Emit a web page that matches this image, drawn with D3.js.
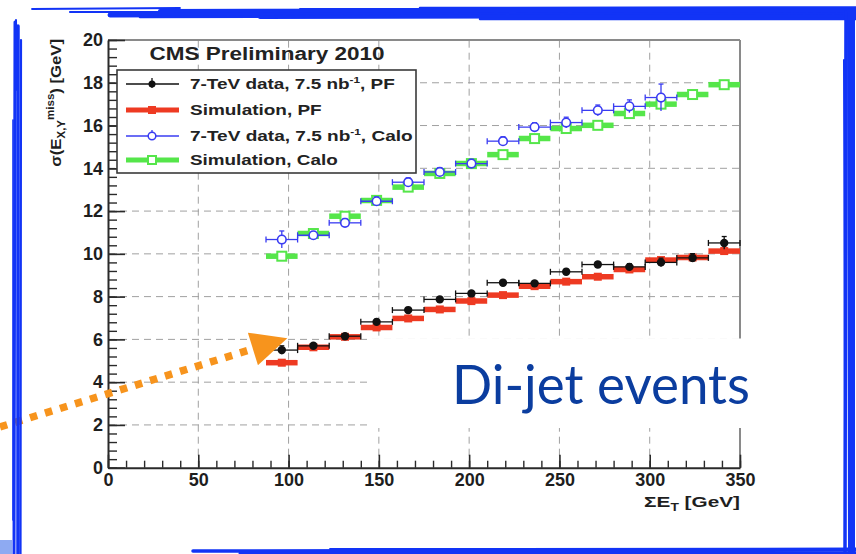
<!DOCTYPE html>
<html>
<head>
<meta charset="utf-8">
<script src="https://cdn.jsdelivr.net/npm/d3@7"></script>
<style>
  html, body { margin: 0; padding: 0; background: #ffffff; }
  svg { display: block; }
</style>
</head>
<body>
<svg id="chart" width="856" height="554"></svg>
<script>
// ---- Data: MET resolution vs sum E_T, di-jet events ----
const binCenters   = [96.25, 113.75, 131.25, 148.75, 166.25, 183.75, 201.25, 218.75, 236.25, 253.75, 271.25, 288.75, 306.25, 323.75, 341.25];
const binHalfWidth = 8.75;

// 7-TeV data, particle flow
const pfData    = [5.50, 5.70, 6.15, 6.82, 7.37, 7.87, 8.15, 8.65, 8.62, 9.16, 9.50, 9.39, 9.60, 9.81, 10.51];
const pfDataErr = [0.20, 0.10, 0.10, 0.12, 0.12, 0.12, 0.12, 0.12, 0.12, 0.13, 0.13, 0.15, 0.20, 0.20, 0.30];
// Simulation, particle flow
const pfSim     = [4.91, 5.63, 6.12, 6.56, 6.98, 7.40, 7.79, 8.07, 8.49, 8.70, 8.93, 9.27, 9.71, 9.83, 10.13];
// 7-TeV data, calorimeter
const caloData    = [10.67, 10.87, 11.45, 12.46, 13.35, 13.83, 14.22, 15.27, 15.93, 16.14, 16.71, 16.90, 17.31, null, null];
const caloDataErr = [0.40, 0.15, 0.20, 0.20, 0.20, 0.20, 0.20, 0.20, 0.20, 0.25, 0.25, 0.30, 0.63, null, null];
// Simulation, calorimeter
const caloSim   = [9.89, 10.95, 11.76, 12.50, 13.12, 13.76, 14.22, 14.64, 15.39, 15.86, 16.01, 16.56, 17.00, 17.45, 17.91];

const xTicks = [0, 50, 100, 150, 200, 250, 300, 350];
const yTicks = [0, 2, 4, 6, 8, 10, 12, 14, 16, 18, 20];
const xMinorTicks = d3.range(0, 351, 10);
const yMinorTicks = d3.range(0, 20.01, 0.4).map(v => +v.toFixed(1));

const chartTitle = "CMS Preliminary 2010";
const legendEntries = [
  { parts: ["7-TeV data, 7.5 nb", "-1", ", PF"],   kind: "pfData" },
  { parts: ["Simulation, PF"],                      kind: "pfSim" },
  { parts: ["7-TeV data, 7.5 nb", "-1", ", Calo"], kind: "caloData" },
  { parts: ["Simulation, Calo"],                    kind: "caloSim" }
];
const annotationText = "Di-jet events";

// ---- Styling ----
const COL = {
  black: "#111111",
  red: "#ee3a22",
  blue: "#3a3cf2",
  green: "#55e64a",
  grid: "#a0a0a0",
  frame: "#8a8a8a",
  axis: "#2a2a2a",
  border: "#1234f6",
  orange: "#f7941d",
  label: "#0b3d9f"
};
const tickFont = "'Liberation Sans', Arial, Helvetica, sans-serif";

const svg = d3.select("#chart");

const x = d3.scaleLinear().domain([0, 350]).range([108, 740]);
const y = d3.scaleLinear().domain([0, 20]).range([467.7, 40]);

// stretch a text element horizontally (about its own origin) to a given width
function stretchTo(sel, width) {
  const w = sel.node().getBBox().width;
  sel.attr("transform", `scale(${width / w},1)`);
}

// ---- Grid ----
const grid = svg.append("g").attr("class", "grid");
grid.selectAll("line.gx").data(xTicks.filter(t => t > 0 && t < 350)).join("line")
  .attr("x1", d => x(d)).attr("x2", d => x(d))
  .attr("y1", y(0)).attr("y2", y(20))
  .attr("stroke", COL.grid).attr("stroke-width", 1).attr("stroke-dasharray", "7,5");
grid.selectAll("line.gy").data(yTicks.filter(t => t > 0 && t < 20)).join("line")
  .attr("x1", x(0)).attr("x2", x(350))
  .attr("y1", d => y(d)).attr("y2", d => y(d))
  .attr("stroke", COL.grid).attr("stroke-width", 1).attr("stroke-dasharray", "7,5");

// ---- Frame (top / right) ----
svg.append("line").attr("x1", x(0)).attr("x2", x(350)).attr("y1", y(20)).attr("y2", y(20))
  .attr("stroke", COL.frame).attr("stroke-width", 2);
svg.append("line").attr("x1", x(350)).attr("x2", x(350)).attr("y1", y(0)).attr("y2", y(20))
  .attr("stroke", COL.frame).attr("stroke-width", 2);

// ---- Axes ----
function styleAxis(g, size) {
  g.select(".domain").attr("stroke", COL.axis).attr("stroke-width", 2);
  g.selectAll(".tick line").attr("stroke", COL.axis).attr("stroke-width", 1.6);
  g.selectAll(".tick text")
    .attr("font-family", tickFont).attr("font-weight", "bold")
    .attr("font-size", size).attr("fill", "#1e1e1e");
}
const yMinor = svg.append("g").attr("transform", `translate(${x(0)},0)`)
  .call(d3.axisLeft(y).tickValues(yMinorTicks).tickSize(-9).tickSizeOuter(0).tickFormat(""));
yMinor.select(".domain").remove();
yMinor.selectAll(".tick line").attr("stroke", COL.axis).attr("stroke-width", 1.4);

const xMinor = svg.append("g").attr("transform", `translate(0,${y(0)})`)
  .call(d3.axisBottom(x).tickValues(xMinorTicks).tickSize(-7).tickSizeOuter(0).tickFormat(""));
xMinor.select(".domain").remove();
xMinor.selectAll(".tick line").attr("stroke", COL.axis).attr("stroke-width", 1.4);

const yAxis = svg.append("g").attr("transform", `translate(${x(0)},0)`)
  .call(d3.axisLeft(y).tickValues(yTicks).tickSize(-17).tickSizeOuter(0).tickPadding(5));
styleAxis(yAxis, 18);

const xAxis = svg.append("g").attr("transform", `translate(0,${y(0)})`)
  .call(d3.axisBottom(x).tickValues(xTicks).tickSize(-13).tickSizeOuter(0).tickPadding(6));
styleAxis(xAxis, 18);

// ---- Axis titles ----
const yTitleG = svg.append("g").attr("transform", `translate(61,39) rotate(-90)`);
const yTitle = yTitleG.append("text")
  .attr("text-anchor", "end")
  .attr("font-family", tickFont).attr("font-weight", "bold")
  .attr("font-size", 14.5).attr("fill", "#1e1e1e");
yTitle.append("tspan").text("σ(E");
yTitle.append("tspan").attr("font-size", 10).attr("dy", 4).text("X,Y");
yTitle.append("tspan").attr("font-size", 10).attr("dy", -11).text("miss");
yTitle.append("tspan").attr("dy", 7).text(") [GeV]");
stretchTo(yTitle, 128);

const xTitleG = svg.append("g").attr("transform", `translate(${x(350)},507)`);
const xTitle = xTitleG.append("text")
  .attr("text-anchor", "end")
  .attr("font-family", tickFont).attr("font-weight", "bold")
  .attr("font-size", 15).attr("fill", "#1e1e1e");
xTitle.append("tspan").text("ΣE");
xTitle.append("tspan").attr("font-size", 10).attr("dy", 4).text("T");
xTitle.append("tspan").attr("dy", -4).text(" [GeV]");
stretchTo(xTitle, 96);

// ---- Series drawing helpers ----
const rows = (vals, errs) => binCenters.map((c, i) => ({ c, v: vals[i], e: errs ? errs[i] : 0 }))
  .filter(d => d.v !== null);

function drawBand(data, color, markerFn) {
  const g = svg.append("g");
  g.selectAll("line.band").data(data).join("line")
    .attr("x1", d => x(d.c - binHalfWidth)).attr("x2", d => x(d.c + binHalfWidth))
    .attr("y1", d => y(d.v)).attr("y2", d => y(d.v))
    .attr("stroke", color).attr("stroke-width", 5.5);
  markerFn(g, data);
}

function drawPoints(data, color, lw, markerFn) {
  const g = svg.append("g");
  g.selectAll("line.h").data(data).join("line")
    .attr("x1", d => x(d.c - binHalfWidth)).attr("x2", d => x(d.c + binHalfWidth))
    .attr("y1", d => y(d.v)).attr("y2", d => y(d.v))
    .attr("stroke", color).attr("stroke-width", lw);
  g.selectAll("line.capl").data(data).join("line")
    .attr("x1", d => x(d.c - binHalfWidth)).attr("x2", d => x(d.c - binHalfWidth))
    .attr("y1", d => y(d.v) - 3).attr("y2", d => y(d.v) + 3)
    .attr("stroke", color).attr("stroke-width", lw);
  g.selectAll("line.capr").data(data).join("line")
    .attr("x1", d => x(d.c + binHalfWidth)).attr("x2", d => x(d.c + binHalfWidth))
    .attr("y1", d => y(d.v) - 3).attr("y2", d => y(d.v) + 3)
    .attr("stroke", color).attr("stroke-width", lw);
  g.selectAll("line.v").data(data).join("line")
    .attr("x1", d => x(d.c)).attr("x2", d => x(d.c))
    .attr("y1", d => y(d.v - d.e)).attr("y2", d => y(d.v + d.e))
    .attr("stroke", color).attr("stroke-width", lw);
  g.selectAll("line.vcap").data(data).join("line")
    .attr("x1", d => x(d.c) - 2.5).attr("x2", d => x(d.c) + 2.5)
    .attr("y1", d => y(d.v + d.e)).attr("y2", d => y(d.v + d.e))
    .attr("stroke", color).attr("stroke-width", lw);
  markerFn(g, data);
}

const openSquare = color => (g, data) => g.selectAll("rect.m").data(data).join("rect")
  .attr("x", d => x(d.c) - 4.5).attr("y", d => y(d.v) - 4.5)
  .attr("width", 9).attr("height", 9)
  .attr("fill", "#ffffff").attr("stroke", color).attr("stroke-width", 2);
const filledSquare = color => (g, data) => g.selectAll("rect.m").data(data).join("rect")
  .attr("x", d => x(d.c) - 4).attr("y", d => y(d.v) - 4)
  .attr("width", 8).attr("height", 8).attr("fill", color);
const openCircle = color => (g, data) => g.selectAll("circle.m").data(data).join("circle")
  .attr("cx", d => x(d.c)).attr("cy", d => y(d.v)).attr("r", 4.3)
  .attr("fill", "#ffffff").attr("stroke", color).attr("stroke-width", 1.6);
const filledCircle = color => (g, data) => g.selectAll("circle.m").data(data).join("circle")
  .attr("cx", d => x(d.c)).attr("cy", d => y(d.v)).attr("r", 4.2).attr("fill", color);

drawBand(rows(caloSim), COL.green, openSquare(COL.green));
drawPoints(rows(caloData, caloDataErr), COL.blue, 1.3, openCircle(COL.blue));
drawBand(rows(pfSim), COL.red, filledSquare(COL.red));
drawPoints(rows(pfData, pfDataErr), COL.black, 1.3, filledCircle(COL.black));

// ---- Title and legend ----
svg.append("text")
  .attr("x", 267).attr("y", 59.5).attr("text-anchor", "middle")
  .attr("font-family", tickFont).attr("font-weight", "bold")
  .attr("font-size", 17.5).attr("fill", "#222")
  .attr("textLength", 235).attr("lengthAdjust", "spacingAndGlyphs")
  .text(chartTitle);

svg.append("rect")
  .attr("x", 117).attr("y", 70).attr("width", 299).attr("height", 103)
  .attr("fill", "#ffffff").attr("stroke", "#3a3a3a").attr("stroke-width", 1.6);

const legendRowY = [84, 110, 136, 160];
const legendWidths = [205, 132, 223, 148];
const legendG = svg.append("g");
legendEntries.forEach((ent, i) => {
  const cy = legendRowY[i];
  const g = legendG.append("g");
  const x1 = 126, x2 = 179, cx = 152;
  if (ent.kind === "pfData" || ent.kind === "caloData") {
    const col = ent.kind === "pfData" ? COL.black : COL.blue;
    g.append("line").attr("x1", x1).attr("x2", x2).attr("y1", cy).attr("y2", cy)
      .attr("stroke", col).attr("stroke-width", 1.3);
    g.append("line").attr("x1", cx).attr("x2", cx).attr("y1", cy - 6).attr("y2", cy + 4)
      .attr("stroke", col).attr("stroke-width", 1.3);
    if (ent.kind === "pfData") g.append("circle").attr("cx", cx).attr("cy", cy).attr("r", 3.5).attr("fill", col);
    else g.append("circle").attr("cx", cx).attr("cy", cy).attr("r", 3.8).attr("fill", "#fff")
      .attr("stroke", col).attr("stroke-width", 1.5);
  } else {
    const col = ent.kind === "pfSim" ? COL.red : COL.green;
    g.append("line").attr("x1", x1).attr("x2", x2).attr("y1", cy).attr("y2", cy)
      .attr("stroke", col).attr("stroke-width", 5);
    if (ent.kind === "pfSim") g.append("rect").attr("x", cx - 4).attr("y", cy - 4)
      .attr("width", 8).attr("height", 8).attr("fill", col);
    else g.append("rect").attr("x", cx - 4).attr("y", cy - 4).attr("width", 8).attr("height", 8)
      .attr("fill", "#fff").attr("stroke", col).attr("stroke-width", 2);
  }
  const tg = g.append("g").attr("transform", `translate(190,${cy + 5})`);
  const t = tg.append("text")
    .attr("font-family", tickFont).attr("font-weight", "bold")
    .attr("font-size", 14.5).attr("fill", "#222");
  t.append("tspan").text(ent.parts[0]);
  if (ent.parts.length > 1) {
    t.append("tspan").attr("font-size", 9).attr("dy", -6).text(ent.parts[1]);
    t.append("tspan").attr("dy", 6).text(ent.parts[2]);
  }
  stretchTo(t, legendWidths[i]);
});

// ---- "Di-jet events" panel ----
svg.append("rect")
  .attr("x", 367).attr("y", 338.5).attr("width", 390).attr("height", 89.5)
  .attr("fill", "#ffffff");
svg.append("text")
  .attr("x", 452).attr("y", 404)
  .attr("font-family", "Lato, 'Open Sans', sans-serif")
  .attr("font-size", 55).attr("fill", COL.label)
  .attr("textLength", 298).attr("lengthAdjust", "spacingAndGlyphs")
  .text(annotationText);

// ---- Orange pointer to the lowest-ET bin ----
const tip = [x(99.3), y(6.05)];
const tail = [0, 427];
const ang = Math.atan2(tip[1] - tail[1], tip[0] - tail[0]);
const headLen = 36, headHalf = 17;
const base = [tip[0] - headLen * Math.cos(ang), tip[1] - headLen * Math.sin(ang)];
svg.append("line")
  .attr("x1", tail[0]).attr("y1", tail[1])
  .attr("x2", base[0]).attr("y2", base[1])
  .attr("stroke", COL.orange).attr("stroke-width", 7.5)
  .attr("stroke-dasharray", "7.5,8.2");
svg.append("polygon")
  .attr("points", [
    tip,
    [base[0] + headHalf * Math.sin(ang), base[1] - headHalf * Math.cos(ang)],
    [base[0] - headHalf * Math.sin(ang), base[1] + headHalf * Math.cos(ang)]
  ].map(p => p.join(",")).join(" "))
  .attr("fill", COL.orange);

// ---- Hand-drawn blue slide border ----
const border = svg.append("g").attr("stroke", COL.border).attr("stroke-linecap", "round").attr("fill", "none");
const strokes = [
  // top edge
  [32, 9, 180, 8, 1.8], [70, 12, 330, 12, 2.2], [110, 15, 856, 13, 5], [160, 11, 856, 10, 4],
  [260, 17, 856, 16, 4], [420, 8, 856, 7.5, 2.5], [480, 19, 856, 19, 2.5], [140, 17, 400, 16.5, 2.5],
  [300, 9, 856, 9, 2],
  // right edge
  [846, 12, 845, 554, 3.5], [849, 10, 850, 554, 4], [853, 10, 853, 554, 4], [844, 60, 845, 400, 2],
  // bottom edge
  [193, 551, 856, 550, 3.5], [240, 553, 856, 553, 3], [330, 549, 856, 548.5, 1.8],
  // left edge
  [15, 22, 14, 554, 3], [18, 26, 18, 554, 3.5], [21, 40, 20.5, 554, 2.2], [13, 120, 13, 520, 1.6],
  [16, 20, 17, 90, 2]
];
border.selectAll("line").data(strokes).join("line")
  .attr("x1", d => d[0]).attr("y1", d => d[1]).attr("x2", d => d[2]).attr("y2", d => d[3])
  .attr("stroke-width", d => d[4]);
svg.append("rect").attr("x", 0).attr("y", 540).attr("width", 12).attr("height", 14).attr("fill", "#8eaaf2");
</script>
</body>
</html>
